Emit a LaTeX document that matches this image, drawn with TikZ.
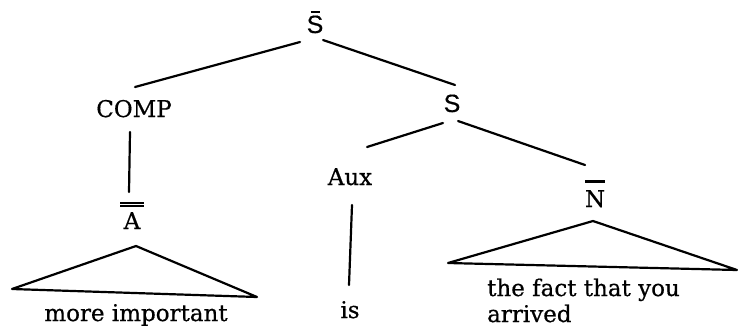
\documentclass[tikz,border=0pt]{standalone}
\usepackage{fontspec}
\setmainfont{DejaVu Serif}[FakeBold=0.6]
\setsansfont{Liberation Sans}[FakeBold=0.4]
\newcommand{\Nbar}{\vbox{\offinterlineskip\halign{\hfil##\hfil\cr\rule{20pt}{3.4pt}\cr\rule{0pt}{7pt}\cr N\cr}}}
\newcommand{\Abar}{\vbox{\offinterlineskip\halign{\hfil##\hfil\cr\rule{24pt}{1.8pt}\cr\rule{0pt}{1.6pt}\cr\rule{24pt}{1.8pt}\cr\rule{0pt}{5pt}\cr A\cr}}}
\newcommand{\Sbar}{\vbox{\offinterlineskip\halign{\hfil##\hfil\cr\rule{9pt}{1.8pt}\cr\rule{0pt}{2.5pt}\cr\sffamily S\cr}}}
\begin{document}
\begin{tikzpicture}[x=1pt,y=-1pt,
  lbl/.style={anchor=base,inner sep=0pt,font=\fontsize{23}{28}\selectfont},
  slbl/.style={lbl,font=\fontsize{25}{30}\selectfont},
  branch/.style={line width=2.2pt,line cap=round,line join=round}]
\useasboundingbox (0,0) rectangle (738,330);
% labels
\node[slbl] (sbar) at (315,33) {\Sbar};
\node[lbl] (comp) at (134,117) {COMP};
\node[lbl] (abar) at (132,229) {\Abar};
\node[slbl] (s) at (452,112) {\sffamily S};
\node[lbl] (aux) at (350,185) {Aux};
\node[lbl] (nbar) at (595,207) {\Nbar};
\node[lbl] (more) at (136,321) {more important};
\node[lbl] (is) at (350,318) {is};
\node[lbl,anchor=base west] (fact) at (487,296) {the fact that you};
\node[lbl,anchor=base west] (arr) at (487,322) {arrived};
% branch end points
\coordinate (sbarL) at (300,42);
\coordinate (sbarR) at (323,40);
\coordinate (compT) at (135,87);
\coordinate (compB) at (130,132);
\coordinate (abarT) at (129,192);
\coordinate (sT) at (455,85);
\coordinate (sL) at (443,123);
\coordinate (sR) at (458,121);
\coordinate (auxT) at (367,147);
\coordinate (auxB) at (352,205);
\coordinate (isT) at (349,285);
\coordinate (nbarT) at (585,165);
% triangles
\coordinate (ta) at (136,246);
\coordinate (tal) at (12,289);
\coordinate (tar) at (257,297);
\coordinate (tn) at (593,221);
\coordinate (tnl) at (448,263);
\coordinate (tnr) at (737,270);
% branches
\draw[branch] (sbarL) -- (compT);
\draw[branch] (sbarR) -- (sT);
\draw[branch] (compB) -- (abarT);
\draw[branch] (sL) -- (auxT);
\draw[branch] (sR) -- (nbarT);
\draw[branch] (auxB) -- (isT);
\draw[branch] (ta) -- (tal) -- (tar) -- cycle;
\draw[branch] (tn) -- (tnl) -- (tnr) -- cycle;
\end{tikzpicture}
\end{document}
